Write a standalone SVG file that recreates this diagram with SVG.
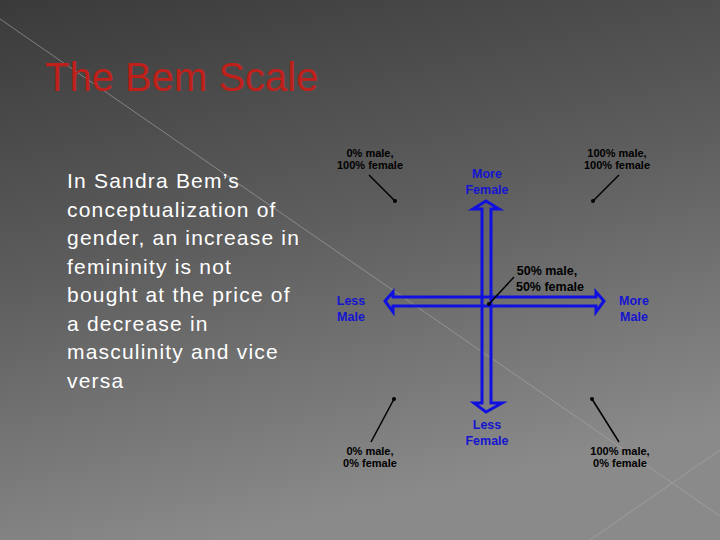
<svg xmlns="http://www.w3.org/2000/svg" width="720" height="540" viewBox="0 0 720 540">
<defs>
<linearGradient id="bg" x1="0" y1="0" x2="0.3" y2="1">
<stop offset="0" stop-color="#3a3a3a"/><stop offset="0.5" stop-color="#5e5e5e"/><stop offset="1" stop-color="#8a8a8a"/>
</linearGradient>
<style>
.t{font-family:"Liberation Sans",Arial,sans-serif;font-size:11px;font-weight:bold;fill:#000;text-anchor:middle}
.m{font-size:12.5px}
.b{font-family:"Liberation Sans",Arial,sans-serif;font-size:12.5px;font-weight:bold;fill:#1515d0;text-anchor:middle}
.ar{fill:none;stroke:#1010e0;stroke-width:3;stroke-linejoin:miter}
.ld{stroke:#000;stroke-width:1.5}
</style>
</defs>
<rect width="720" height="540" fill="url(#bg)"/>
<g stroke="#aaa" stroke-width="1" opacity="0.6">
<line x1="0" y1="19" x2="720" y2="516"/>
<line x1="590" y1="540" x2="720" y2="450"/>
</g>
<text x="45" y="91" font-family="Liberation Sans,Arial,sans-serif" font-size="40" fill="#c0201a">The Bem Scale</text>
<g font-family="Liberation Sans,Arial,sans-serif" font-size="21" letter-spacing="1.2" fill="#fff">
<text x="67" y="188">In Sandra Bem’s</text>
<text x="67" y="217">conceptualization of</text>
<text x="67" y="245">gender, an increase in</text>
<text x="67" y="274">femininity is not</text>
<text x="67" y="302">bought at the price of</text>
<text x="67" y="331">a decrease in</text>
<text x="67" y="359">masculinity and vice</text>
<text x="67" y="388">versa</text>
</g>
<g id="connectors">
<polygon class="ar" points="385,301 393,292 393,297 596,297 596,292 604,301 596,312 596,306 393,306 393,312"/>
<polygon class="ar" points="486,201 499,209 491,209 491,403 502,403 486,412 474,403 482,403 482,209 473,209"/>
<line class="ld" x1="369" y1="175" x2="395" y2="201"/>
<line class="ld" x1="619" y1="175" x2="593" y2="201"/>
<line class="ld" x1="514" y1="277" x2="489" y2="304"/>
<line class="ld" x1="394" y1="399" x2="371" y2="442"/>
<line class="ld" x1="592" y1="399" x2="619" y2="442"/>
<g fill="#000"><circle cx="395" cy="201" r="2"/><circle cx="593" cy="201" r="2"/><circle cx="489" cy="304" r="2"/><circle cx="394" cy="399" r="2"/><circle cx="592" cy="399" r="2"/></g>
</g>
<g id="n1"><text class="t" x="370" y="157">0% male,</text><text class="t" x="370" y="169">100% female</text></g>
<g id="n2"><text class="t" x="617" y="157">100% male,</text><text class="t" x="617" y="169">100% female</text></g>
<g id="n3"><text class="t m" x="547" y="275">50% male,</text><text class="t m" x="550" y="291">50% female</text></g>
<g id="n4"><text class="t" x="370" y="455">0% male,</text><text class="t" x="370" y="467">0% female</text></g>
<g id="n5"><text class="t" x="620" y="455">100% male,</text><text class="t" x="620" y="467">0% female</text></g>
<g id="n6"><text class="b" x="487" y="178">More</text><text class="b" x="487" y="194">Female</text></g>
<g id="n7"><text class="b" x="487" y="429">Less</text><text class="b" x="487" y="445">Female</text></g>
<g id="n8"><text class="b" x="351" y="305">Less</text><text class="b" x="351" y="321">Male</text></g>
<g id="n9"><text class="b" x="634" y="305">More</text><text class="b" x="634" y="321">Male</text></g>
</svg>
